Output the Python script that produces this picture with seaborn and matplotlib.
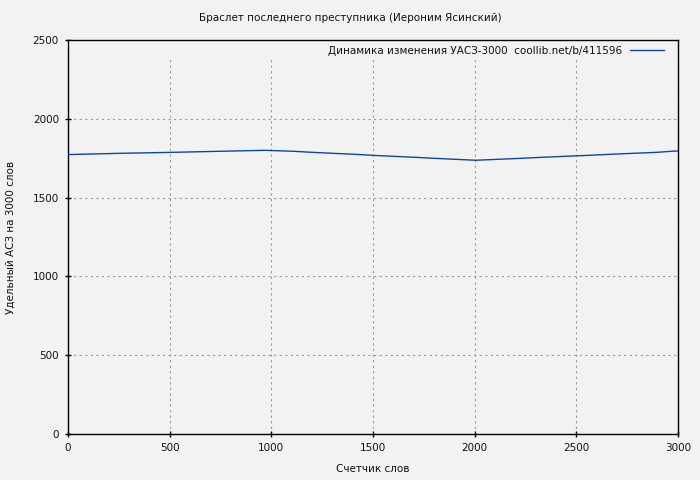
import matplotlib
matplotlib.use("Agg")
from matplotlib.patches import Rectangle
import matplotlib.pyplot as plt
import seaborn as sns
import pandas as pd

# data
words = [0, 256, 507, 752, 969, 1107, 1205, 1303, 1407, 1500, 1600, 1702, 1805,
         1903, 2007, 2115, 2223, 2336, 2444, 2557, 2670, 2779, 2892, 2970, 3000]
uasz = [1773, 1781, 1787, 1794, 1800, 1794, 1787, 1781, 1775, 1768, 1762, 1756, 1749,
        1743, 1737, 1743, 1749, 1756, 1762, 1768, 1775, 1781, 1787, 1794, 1796]
series_label = "Динамика изменения УАСЗ-3000  coollib.net/b/411596"
title = "Браслет последнего преступника (Иероним Ясинский)"

bg = '#f2f2f2'
sns.set_style("ticks")
plt.rcParams['font.family'] = ['DejaVu Sans']
plt.rcParams['font.size'] = 7.5
plt.rcParams['text.color'] = '#111111'

df = pd.DataFrame({'x': words, 'y': uasz})

fig = plt.figure(figsize=(7, 4.8), dpi=100, facecolor=bg)
ax = fig.add_axes([68/700, 46/480, 610/700, 394/480])
ax.set_facecolor(bg)
sns.lineplot(data=df, x='x', y='y', ax=ax, color='#0a46aa', linewidth=1.0,
             label=series_label, zorder=3)

ax.set_xlim(0, 3000)
ax.set_ylim(0, 2500)
ax.set_xticks(range(0, 3001, 500))
ax.set_yticks(range(0, 2501, 500))
ax.set_axisbelow(True)
ax.grid(True, color='#999999', linestyle=(0, (2, 3)), linewidth=0.8)
ax.tick_params(direction='inout', length=5, width=1, colors='black', labelcolor='#111111',
               labelsize=7.5, pad=4)
for s in ax.spines.values():
    s.set_color('black')
    s.set_linewidth(1)

# strip under the key hides the grid, like the original
ax.add_patch(Rectangle((0, 0.957), 1, 0.043, transform=ax.transAxes,
                       facecolor=bg, edgecolor='none', zorder=1))

leg = ax.legend(loc='upper right', bbox_to_anchor=(0.9885, 1.004), frameon=False,
                handlelength=3.2, markerfirst=False, fontsize=7.5, borderaxespad=0.3)

ax.set_xlabel("Счетчик слов", fontsize=7.5, labelpad=8, color='#111111')
ax.set_ylabel("Удельный АСЗ на 3000 слов", fontsize=7.5, labelpad=12, color='#111111')
fig.text(0.5, 1 - 18/480, title, ha='center', va='center', fontsize=7.5)

fig.savefig('out.png', dpi=100, facecolor=bg)
plt.close()
